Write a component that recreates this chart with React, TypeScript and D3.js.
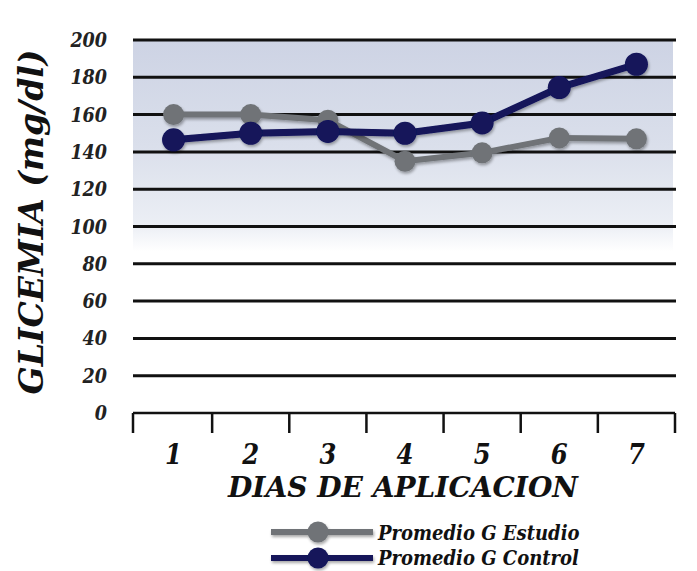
import React from "react";
import * as d3 from "d3";

const days = ["1", "2", "3", "4", "5", "6", "7"];
const estudio = [160, 160, 157, 135, 139.5, 147.5, 147];
const control = [146.5, 150, 151, 150, 155.5, 174.5, 187];
const yTicks = [0, 20, 40, 60, 80, 100, 120, 140, 160, 180, 200];
const seriesNames = ["Promedio G Estudio", "Promedio G Control"];
const seriesColors = ["#6f7377", "#12135a"];

const W = 697;
const H = 571;
const left = 135;
const right = 675;
const top = 40;
const bottom = 413;

export default function App() {
  const x = d3.scaleBand<string>().domain(days).range([left, right]);
  const y = d3.scaleLinear().domain([0, 200]).range([bottom, top]);
  const cx = (d: string) => (x(d) as number) + x.bandwidth() / 2;
  const line = d3
    .line<number>()
    .x((_, i) => cx(days[i]))
    .y((v) => y(v));
  const series = [estudio, control];
  const font = "'DejaVu Serif Condensed', 'DejaVu Serif', serif";
  const edges = days.map((d) => x(d) as number).concat([right]);
  const ts = { fontFamily: font, fontWeight: 700, fontStyle: "italic" } as React.CSSProperties;
  const bgBottom = y(100) + 25;

  return (
    <svg
      width={W}
      height={H}
      style={{ position: "fixed", top: 0, left: 0, background: "#fff" }}
    >
      <defs>
        <linearGradient id="bg" x1="0" y1="0" x2="0" y2="1">
          <stop offset="0" stopColor="#cdd3e4" />
          <stop offset="0.5" stopColor="#dadfeb" />
          <stop offset="0.88" stopColor="#eceff5" />
          <stop offset="1" stopColor="#ffffff" />
        </linearGradient>
        <filter id="sh" x="-10%" y="-30%" width="120%" height="160%">
          <feGaussianBlur in="SourceAlpha" stdDeviation="1.5" />
          <feOffset dx="1" dy="2" result="b" />
          <feComponentTransfer>
            <feFuncA type="linear" slope="0.35" />
          </feComponentTransfer>
          <feMerge>
            <feMergeNode />
            <feMergeNode in="SourceGraphic" />
          </feMerge>
        </filter>
      </defs>
      <rect x={133} y={top} width={673 - 133} height={bgBottom - top} fill="url(#bg)" />
      {yTicks
        .filter((t) => t > 0)
        .map((t) => (
          <line key={t} x1={133} x2={676} y1={y(t)} y2={y(t)} stroke="#111" strokeWidth={3} />
        ))}
      {yTicks.map((t) => (
        <text key={t} x={107} y={y(t) + 7} textAnchor="end" fontSize={19.5} fill="#222" style={ts}>
          {t}
        </text>
      ))}
      <line x1={133} x2={right} y1={bottom} y2={bottom} stroke="#111" strokeWidth={2.5} />
      {edges.map((e, i) => (
        <line
          key={i}
          x1={i === 0 ? 133 : e}
          x2={i === 0 ? 133 : e}
          y1={bottom}
          y2={bottom + 20}
          stroke="#111"
          strokeWidth={2.5}
        />
      ))}
      {days.map((d) => (
        <text key={d} x={cx(d)} y={464} textAnchor="middle" fontSize={27} fill="#111" style={ts}>
          {d}
        </text>
      ))}
      <text
        x={403}
        y={497}
        textAnchor="middle"
        fontSize={28}
        fill="#111"
        style={ts}
        textLength={350}
        lengthAdjust="spacingAndGlyphs"
      >
        DIAS DE APLICACION
      </text>
      <text
        transform={`translate(43,222) rotate(-90)`}
        textAnchor="middle"
        fontSize={33}
        fill="#111"
        style={ts}
        textLength={345}
        lengthAdjust="spacingAndGlyphs"
      >
        GLICEMIA (mg/dl)
      </text>
      {series.map((s, k) => (
        <g key={k} filter="url(#sh)">
          <path d={line(s) || ""} fill="none" stroke={seriesColors[k]} strokeWidth={k === 0 ? 6 : 7} />
          {s.map((v, i) => (
            <circle key={i} cx={cx(days[i])} cy={y(v)} r={k === 0 ? 10.5 : 11.5} fill={seriesColors[k]} />
          ))}
        </g>
      ))}
      {seriesNames.map((n, k) => (
        <g key={n}>
          <g filter="url(#sh)">
            <line x1={271} x2={373} y1={532 + k * 26} y2={532 + k * 26} stroke={seriesColors[k]} strokeWidth={6} />
            <circle cx={318} cy={532 + k * 26} r={10.5} fill={seriesColors[k]} />
          </g>
          <text x={378} y={540 + k * 25} fontSize={20} fill="#111" style={ts}>
            {n}
          </text>
        </g>
      ))}
    </svg>
  );
}
